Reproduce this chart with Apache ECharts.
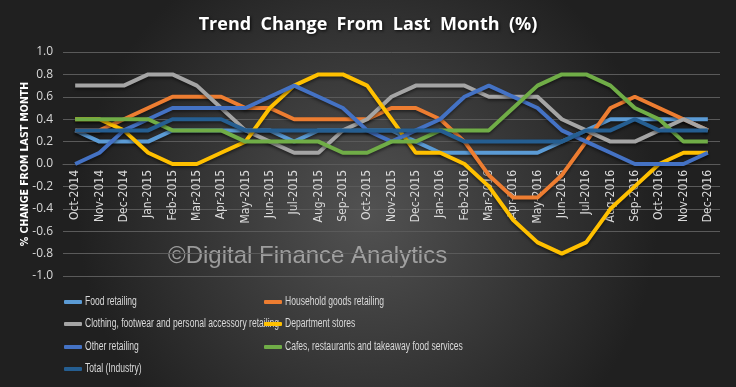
<!DOCTYPE html>
<html>
<head>
<meta charset="utf-8">
<script src="https://cdn.jsdelivr.net/npm/echarts@6/dist/echarts.min.js"></script>
<style>
html,body{margin:0;padding:0;background:#2a2a2a;}
#c{width:736px;height:387px;}
</style>
</head>
<body>
<div id="c"></div>
<script>
const categories = ["Oct-2014","Nov-2014","Dec-2014","Jan-2015","Feb-2015","Mar-2015","Apr-2015","May-2015","Jun-2015","Jul-2015","Aug-2015","Sep-2015","Oct-2015","Nov-2015","Dec-2015","Jan-2016","Feb-2016","Mar-2016","Apr-2016","May-2016","Jun-2016","Jul-2016","Aug-2016","Sep-2016","Oct-2016","Nov-2016","Dec-2016"];
const foodRetailing = [0.3,0.2,0.2,0.2,0.3,0.3,0.3,0.3,0.3,0.2,0.3,0.3,0.3,0.3,0.2,0.1,0.1,0.1,0.1,0.1,0.2,0.3,0.4,0.4,0.4,0.4,0.4];
const householdGoods = [0.3,0.3,0.4,0.5,0.6,0.6,0.6,0.5,0.5,0.4,0.4,0.4,0.4,0.5,0.5,0.4,0.2,-0.1,-0.3,-0.3,-0.1,0.2,0.5,0.6,0.5,0.4,0.3];
const clothing = [0.7,0.7,0.7,0.8,0.8,0.7,0.5,0.3,0.2,0.1,0.1,0.3,0.4,0.6,0.7,0.7,0.7,0.6,0.6,0.6,0.4,0.3,0.2,0.2,0.3,0.4,0.3];
const departmentStores = [0.4,0.4,0.3,0.1,0.0,0.0,0.1,0.2,0.5,0.7,0.8,0.8,0.7,0.4,0.1,0.1,0.0,-0.2,-0.5,-0.7,-0.8,-0.7,-0.4,-0.2,0.0,0.1,0.1];
const otherRetailing = [0.0,0.1,0.3,0.4,0.5,0.5,0.5,0.5,0.6,0.7,0.6,0.5,0.3,0.2,0.3,0.4,0.6,0.7,0.6,0.5,0.3,0.2,0.1,0.0,0.0,0.0,0.1];
const cafes = [0.4,0.4,0.4,0.4,0.3,0.3,0.3,0.2,0.2,0.2,0.2,0.1,0.1,0.2,0.2,0.3,0.3,0.3,0.5,0.7,0.8,0.8,0.7,0.5,0.4,0.2,0.2];
const totalIndustry = [0.3,0.3,0.3,0.3,0.4,0.4,0.4,0.3,0.3,0.3,0.3,0.3,0.3,0.3,0.3,0.3,0.2,0.2,0.2,0.2,0.2,0.3,0.3,0.4,0.3,0.3,0.3];
const seriesNames = ["Food retailing","Household goods retailing","Clothing, footwear and personal accessory retailing","Department stores","Other retailing","Cafes, restaurants and takeaway food services","Total (Industry)"];
const seriesData = [foodRetailing, householdGoods, clothing, departmentStores, otherRetailing, cafes, totalIndustry];
const seriesColors = ["#5B9BD5","#ED7D31","#A5A5A5","#FFC000","#4472C4","#70AD47","#255E91"];

const narrow = "'Liberation Sans Narrow','DejaVu Sans Condensed','Liberation Sans',sans-serif";
const legendPos = [[64,302],[264,302],[64,324],[264,324],[64,347],[264,347],[64,369]];

const chart = echarts.init(document.getElementById('c'), null, {renderer:'canvas'});
const option = {
  backgroundColor: {type:'radial', x:0.5, y:0.55, r:0.75, colorStops:[{offset:0,color:'#525252'},{offset:1,color:'#202020'}]},
  animation:false,
  title:{
    text:'Trend  Change  From  Last  Month  (%)',
    left:'center', top:16, padding:0,
    textStyle:{color:'#ffffff', fontSize:18, fontWeight:'bold', fontFamily:"'Open Sans',sans-serif", textShadowColor:'rgba(0,0,0,0.8)', textShadowBlur:3, textShadowOffsetX:1, textShadowOffsetY:1}
  },
  grid:{left:63, right:16, top:52, bottom:111, containLabel:false},
  legend: seriesNames.map((n,i)=>({
    data:[n], left:legendPos[i][0], top:legendPos[i][1]-2, padding:0, icon:'roundRect', itemWidth:18, itemHeight:4,
    formatter:()=>'', textStyle:{fontSize:1}
  })),
  xAxis:{
    type:'category', data:categories, boundaryGap:true, position:'bottom', offset:-112, z:0,
    axisLine:{show:true, onZero:false, lineStyle:{color:'#5a5a5a'}},
    axisTick:{show:false},
    axisLabel:{rotate:90, interval:0, color:'#d9d9d9', fontSize:12, fontFamily:narrow, margin:6}
  },
  yAxis:{
    type:'value', min:-1, max:1, interval:0.2,
    name:'% CHANGE FROM LAST MONTH', nameLocation:'middle', nameGap:32, nameRotate:90, nameMoveOverlap:false,
    nameTextStyle:{color:'#ffffff', fontSize:10.5, fontWeight:'bold', fontFamily:narrow},
    axisLine:{show:false}, axisTick:{show:false},
    axisLabel:{color:'#d9d9d9', fontSize:12, fontFamily:"'Open Sans',sans-serif", margin:10, formatter:v=>v.toFixed(1)},
    splitLine:{lineStyle:{color:'#5a5a5a', width:1}}
  },
  graphic:[
    {type:'text', x:168, y:256, silent:true, style:{text:'\u00A9Digital Finance Analytics', font:"24px 'Liberation Sans',Arial,sans-serif", fill:'rgba(190,190,190,0.75)', verticalAlign:'middle'}}
  ].concat(seriesNames.map((n,i)=>({
    type:'text', x:legendPos[i][0]+21, y:legendPos[i][1], scaleX:0.713, silent:true,
    style:{text:n, font:"12px 'Liberation Sans',Arial,sans-serif", fill:'#d9d9d9', verticalAlign:'middle'}
  }))),
  series: seriesNames.map((n,i)=>({
    name:n, type:'line', data:seriesData[i], symbol:'none', smooth:false, zlevel:1, z:5,
    lineStyle:{width:4, color:seriesColors[i], shadowColor:'rgba(0,0,0,0.45)', shadowBlur:3, shadowOffsetY:2},
    itemStyle:{color:seriesColors[i]}
  }))
};
chart.setOption(option);
</script>
</body>
</html>
